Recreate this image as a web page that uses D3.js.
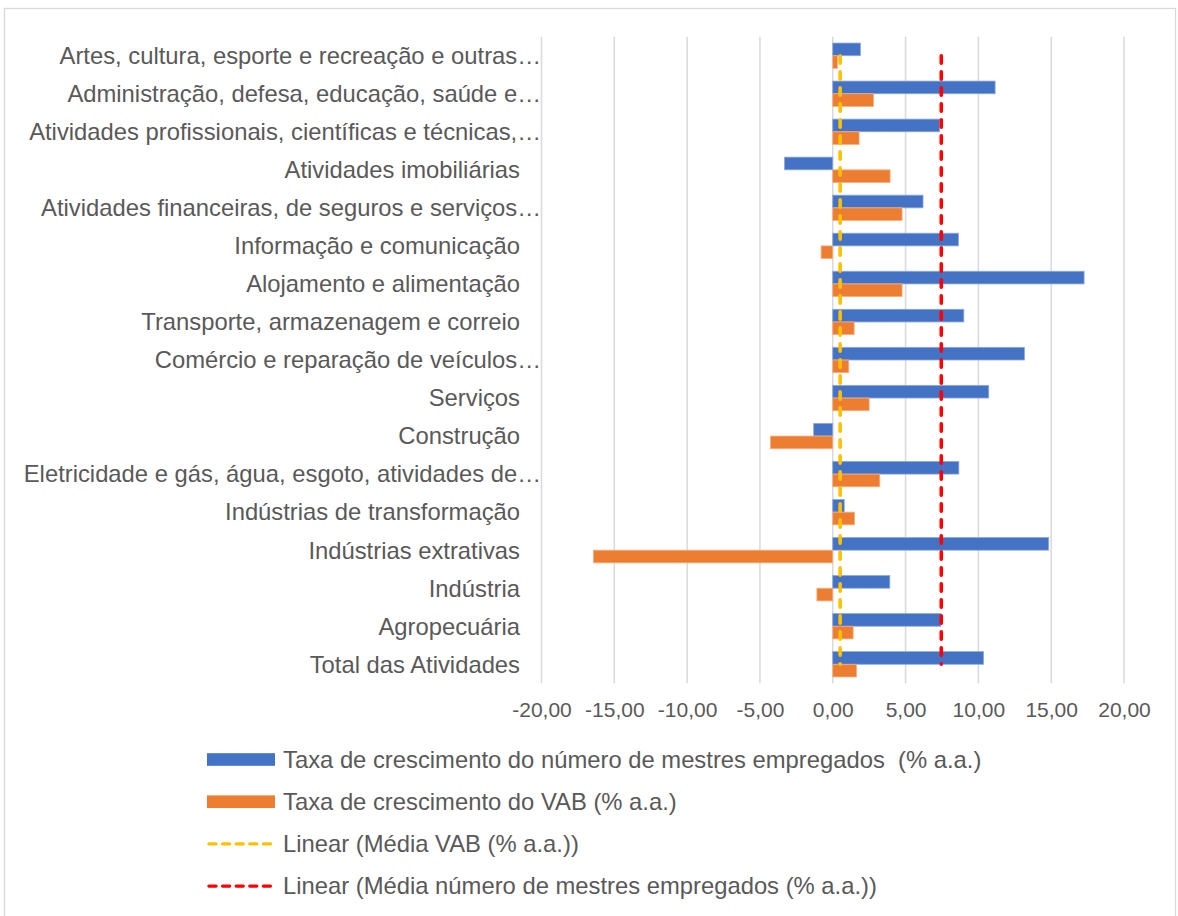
<!DOCTYPE html>
<html>
<head>
<meta charset="utf-8">
<script src="https://cdn.jsdelivr.net/npm/d3@7"></script>
<style>
  html, body { margin: 0; padding: 0; background: #fff; }
  svg { display: block; font-family: "Liberation Sans", Arial, sans-serif; }
  text { fill: #595959; white-space: pre; }
</style>
</head>
<body>
<svg id="chart" width="1178" height="916"></svg>
<script>
// Activity sectors, listed from top to bottom
const categories = [
  "Artes, cultura, esporte e recreação e outras…",
  "Administração, defesa, educação, saúde e…",
  "Atividades profissionais, científicas e técnicas,…",
  "Atividades imobiliárias",
  "Atividades financeiras, de seguros e serviços…",
  "Informação e comunicação",
  "Alojamento e alimentação",
  "Transporte, armazenagem e correio",
  "Comércio e reparação de veículos…",
  "Serviços",
  "Construção",
  "Eletricidade e gás, água, esgoto, atividades de…",
  "Indústrias de transformação",
  "Indústrias extrativas",
  "Indústria",
  "Agropecuária",
  "Total das Atividades"
];

// Growth rate of employed masters (% a.a.)
const mestres = [1.90, 11.15, 7.33, -3.32, 6.20, 8.63, 17.26, 9.00, 13.16, 10.71, -1.31, 8.66, 0.79, 14.83, 3.92, 7.43, 10.36];

// Growth rate of gross value added (% a.a.)
const vab = [0.33, 2.80, 1.81, 3.94, 4.76, -0.80, 4.76, 1.47, 1.10, 2.50, -4.28, 3.23, 1.50, -16.44, -1.09, 1.40, 1.64];

const xTicks = [-20, -15, -10, -5, 0, 5, 10, 15, 20];

const seriesNames = [
  "Taxa de crescimento do número de mestres empregados  (% a.a.)",
  "Taxa de crescimento do VAB (% a.a.)",
  "Linear (Média VAB (% a.a.))",
  "Linear (Média número de mestres empregados (% a.a.))"
];

const BLUE = "#4472C4", ORANGE = "#ED7D31", YELLOW = "#FFC000", RED = "#FF0000";

const svg = d3.select("#chart");

// outer chart frame
svg.append("rect")
  .attr("x", 4.5).attr("y", 8.5).attr("width", 1171).attr("height", 940)
  .attr("fill", "#fff").attr("stroke", "#D9D9D9").attr("stroke-width", 1.3);

const plot = { left: 541.5, right: 1124, top: 36.7, bottom: 683.3 };

const x = d3.scaleLinear().domain([-20, 20]).range([plot.left, plot.right]);
const y = d3.scaleBand().domain(categories).range([plot.top, plot.bottom])
  .paddingInner(1 / 3).paddingOuter(1 / 6);
const sub = d3.scaleBand().domain([0, 1]).range([0, y.bandwidth()]);

// vertical gridlines
svg.append("g").selectAll("line").data(xTicks).join("line")
  .attr("x1", d => x(d)).attr("x2", d => x(d))
  .attr("y1", plot.top).attr("y2", plot.bottom)
  .attr("stroke", "#D9D9D9").attr("stroke-width", 1.5);

// x axis tick labels with comma decimals
const ptBR = d3.formatLocale({ decimal: ",", thousands: ".", grouping: [3], currency: ["R$", ""], minus: "-" });
const fmt = ptBR.format(".2f");
const xAxis = svg.append("g")
  .attr("transform", `translate(0,${plot.bottom})`)
  .call(d3.axisBottom(x).tickValues(xTicks).tickFormat(fmt).tickSize(0).tickPadding(18.5));
xAxis.select(".domain").remove();
xAxis.selectAll("text").attr("font-size", 21).style("fill", "#595959")
  .attr("font-family", "Liberation Sans, Arial, sans-serif");

// category labels
svg.append("g").selectAll("text").data(categories).join("text")
  .attr("x", d => d.endsWith("…") ? 541 : 520)
  .attr("y", d => y(d) + y.bandwidth() / 2)
  .attr("dy", "0.35em")
  .attr("text-anchor", "end")
  .attr("font-size", 23.8)
  .text(d => d);

// bars
const series = [
  { values: mestres, color: BLUE, stroke: "#8FAADC" },
  { values: vab, color: ORANGE, stroke: "#F4B183" }
];
series.forEach((s, si) => {
  svg.append("g").selectAll("rect").data(categories).join("rect")
    .attr("x", (d, i) => x(Math.min(0, s.values[i])))
    .attr("width", (d, i) => Math.abs(x(s.values[i]) - x(0)))
    .attr("y", d => y(d) + sub(si))
    .attr("height", sub.bandwidth())
    .attr("fill", s.color)
    .attr("stroke", s.stroke).attr("stroke-width", 0.8);
});

// average lines (linear trend of constant mean series)
const meanVab = d3.mean(vab);
const meanMestres = d3.mean(mestres);
const yFirst = y(categories[0]) + y.bandwidth() / 2;
const yLast = y(categories[categories.length - 1]) + y.bandwidth() / 2;
[[meanVab, YELLOW], [meanMestres, RED]].forEach(([m, c]) => {
  svg.append("line")
    .attr("x1", x(m)).attr("x2", x(m))
    .attr("y1", yFirst).attr("y2", yLast)
    .attr("stroke", c).attr("stroke-width", 3.6)
    .attr("stroke-dasharray", "7.5,8.5").attr("stroke-linecap", "round");
});

// legend
const legend = svg.append("g");
const legendRows = [
  { name: seriesNames[0], type: "bar", color: BLUE },
  { name: seriesNames[1], type: "bar", color: ORANGE },
  { name: seriesNames[2], type: "line", color: YELLOW },
  { name: seriesNames[3], type: "line", color: RED }
];
legendRows.forEach((r, i) => {
  const cy = 759.5 + i * 42.2;
  if (r.type === "bar") {
    legend.append("rect").attr("x", 207).attr("y", cy - 6.3).attr("width", 68).attr("height", 12.6)
      .attr("fill", r.color);
  } else {
    legend.append("line").attr("x1", 209).attr("x2", 274).attr("y1", cy).attr("y2", cy)
      .attr("stroke", r.color).attr("stroke-width", 3.4)
      .attr("stroke-dasharray", "7,6.6").attr("stroke-linecap", "round");
  }
  legend.append("text").attr("x", 283).attr("y", cy).attr("dy", "0.35em")
    .attr("font-size", 23.8).text(r.name);
});
</script>
</body>
</html>
